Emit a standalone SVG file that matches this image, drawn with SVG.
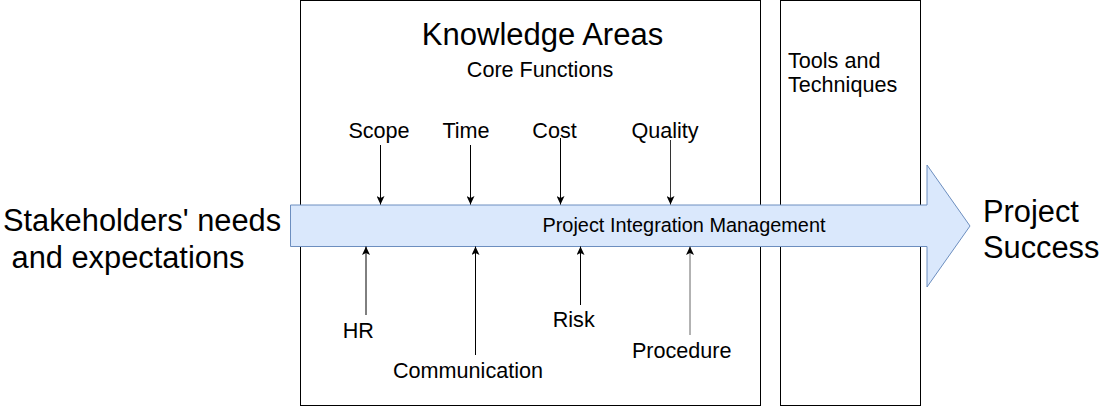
<svg xmlns="http://www.w3.org/2000/svg" width="1112" height="406" viewBox="0 0 1112 406">
  <style>
    text { font-family: "Liberation Sans", Arial, Helvetica, sans-serif; fill: #000; }
    .box { fill: #fff; stroke: #000; stroke-width: 1; }
    .lbl { font-size: 21.6px; text-anchor: middle; }
    .big { font-size: 30.8px; }
    .conn { stroke: #000; stroke-width: 1; fill: none; marker-end: url(#ah); }
  </style>
  <defs>
    <marker id="ah" markerUnits="userSpaceOnUse" markerWidth="9" markerHeight="8" viewBox="0 0 9 8" refX="8.5" refY="4" orient="auto">
      <path d="M0,0 L8.5,4 L0,8 L2,4 z" fill="#000"/>
    </marker>
  </defs>
  <rect width="1112" height="406" fill="#fff"/>

  <g id="knowledge-areas">
    <rect class="box" x="300.5" y="0.5" width="460" height="405"/>
    <text x="542.5" y="44.5" font-size="31" text-anchor="middle">Knowledge Areas</text>
    <text x="540" y="77" class="lbl">Core Functions</text>
  </g>

  <g id="tools">
    <rect class="box" x="780.5" y="0.5" width="140" height="405"/>
    <text x="788" y="67.5" font-size="21.6">Tools and</text>
    <text x="788" y="91.5" font-size="21.6">Techniques</text>
  </g>

  <g id="integration">
    <polygon points="290.5,205 927,205 927,165 970,226 927,287 927,246.5 290.5,246.5" fill="#dae8fc" stroke="#6c8ebf" stroke-width="1"/>
    <text x="684" y="231.5" font-size="19.9" text-anchor="middle">Project Integration Management</text>
  </g>

  <g id="stakeholders">
    <text x="3" y="231" class="big">Stakeholders' needs</text>
    <text x="3" y="268" class="big" xml:space="preserve"> and expectations</text>
  </g>

  <g id="success">
    <text x="983" y="221.7" class="big">Project</text>
    <text x="983" y="258.3" class="big">Success</text>
  </g>

  <g id="labels">
    <text id="scope" x="379" y="138.3" class="lbl">Scope</text>
    <text id="time" x="466" y="138.3" class="lbl">Time</text>
    <text id="cost" x="554.5" y="138.3" class="lbl">Cost</text>
    <text id="quality" x="665" y="138.3" class="lbl">Quality</text>
    <text id="hr" x="358.3" y="337.7" class="lbl">HR</text>
    <text id="communication" x="468" y="377.7" class="lbl">Communication</text>
    <text id="risk" x="573.7" y="327.3" class="lbl">Risk</text>
    <text id="procedure" x="681.7" y="358.3" class="lbl">Procedure</text>
  </g>

  <g id="connectors">
    <path class="conn" d="M380.5,145 L380.5,204.5"/>
    <path class="conn" d="M470.5,145 L470.5,204.5"/>
    <path class="conn" d="M560.5,138 L560.5,204.5"/>
    <path class="conn" d="M670.5,140 L670.5,204.5" style="stroke:#333"/>
    <path class="conn" d="M366,315 L366,246.5"/>
    <path class="conn" d="M475.5,355 L475.5,246.5"/>
    <path class="conn" d="M580.5,305 L580.5,246.5"/>
    <path class="conn" d="M690,335 L690,246.5" style="stroke:#666"/>
  </g>
</svg>
